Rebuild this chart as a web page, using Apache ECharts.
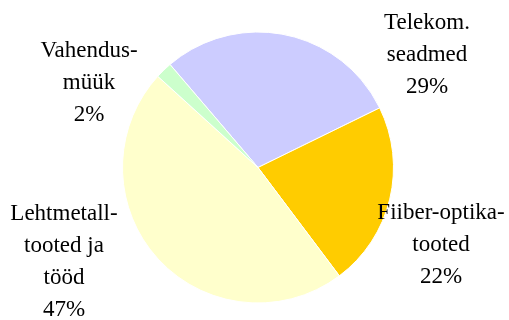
<!DOCTYPE html>
<html><head><meta charset="utf-8">
<script src="https://cdn.jsdelivr.net/npm/echarts@6/dist/echarts.min.js"></script>
<style>html,body{margin:0;padding:0;background:#fff}#c{width:509px;height:320px}</style>
</head><body><div id="c"></div>
<script>
var categories = ["Telekom.\nseadmed", "Fiiber-optika-\ntooted", "Lehtmetall-\ntooted ja\ntööd", "Vahendus-\nmüük"];
var values = [29, 22, 47, 2];
var colors = ["#CCCCFF", "#FFCC00", "#FFFFCC", "#CCFFCC"];
var labelPos = [[427, 55], [441, 245], [64, 262], [89, 83]];

var chart = echarts.init(document.getElementById('c'), null, {renderer: 'canvas'});
chart.setOption({
  animation: false,
  series: [{
    type: 'pie',
    center: [258, 167.5],
    radius: 135.5,
    startAngle: 130.5,
    clockwise: true,
    data: categories.map(function (c, i) { return {name: c, value: values[i], itemStyle: {color: colors[i]}}; }),
    itemStyle: {borderColor: '#fff', borderWidth: 1},
    label: {
      show: true,
      position: 'outside',
      overflow: 'none',
      bleedMargin: 0,
      edgeDistance: 0,
      formatter: function (p) { return p.name + '\n' + Math.round(p.percent) + '%'; },
      fontFamily: '"Liberation Serif", "Times New Roman", serif',
      fontSize: 23,
      lineHeight: 32,
      color: '#000',
      align: 'center'
    },
    labelLine: {show: false},
    labelLayout: function (p) {
      var pos = labelPos[p.dataIndex];
      return {x: pos[0], y: pos[1], align: 'center', verticalAlign: 'middle'};
    },
    emphasis: {disabled: true}
  }]
});
</script></body></html>
